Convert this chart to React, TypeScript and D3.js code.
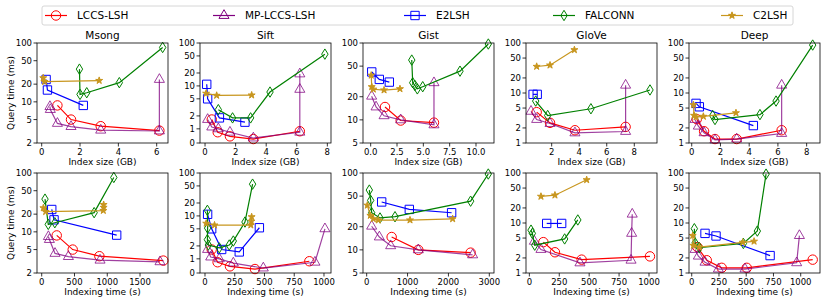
import * as d3 from "d3";

const methods = ["LCCS-LSH", "MP-LCCS-LSH", "E2LSH", "FALCONN", "C2LSH"];
const colors = ["#ff0000", "#800080", "#0000ff", "#008000", "#c8961e"];
const datasets = ["Msong", "Sift", "Gist", "GloVe", "Deep"];

// [index size GB, query time ms] per method (method order above)
const msongSize = [
  [[0.82, 8.7], [1.53, 5.0], [3.08, 3.86], [6.14, 3.25]],
  [[0.43, 8.3], [0.45, 7.4], [0.82, 4.3], [1.53, 3.8], [3.08, 3.3], [6.14, 3.2], [6.14, 24]],
  [[0.23, 24], [0.3, 15.9], [2.17, 8.7]],
  [[1.97, 36], [2.0, 13.4], [2.35, 14.3], [4.05, 21.2], [6.31, 84]],
  [[0.08, 25.5], [0.15, 22], [3.0, 23]],
];
const siftSize = [
  [[0.44, 1.65], [0.83, 0.76], [1.63, 0.47], [3.16, 0.28], [6.2, 0.83]],
  [[0.17, 1.65], [0.44, 1.1], [0.87, 1.0], [1.63, 0.76], [3.16, 0.35], [6.2, 0.76], [6.2, 8.3], [6.2, 19]],
  [[0.11, 10.9], [0.17, 5.0], [0.94, 1.8], [2.61, 1.43]],
  [[0.87, 2.8], [1.8, 1.8], [2.98, 1.8], [4.25, 7.2], [7.84, 55]],
  [[0.07, 6.7], [0.76, 6.0], [3.05, 6.1]],
];
const gistSize = [
  [[1.36, 14.7], [2.85, 9.8], [6.01, 9.2]],
  [[0.09, 20.3], [0.51, 14.7], [1.27, 11.3], [2.85, 10.0], [6.01, 8.6], [6.01, 30.4]],
  [[0.1, 42], [0.82, 33.6], [1.77, 31]],
  [[3.9, 60], [3.99, 30.4], [4.2, 28], [4.43, 25.3], [4.94, 27], [8.48, 43], [11.17, 97]],
  [[0.05, 38], [0.1, 26.9], [0.25, 25], [1.27, 24.4], [2.78, 25.3]],
];
const gloveSize = [
  [[0.91, 4.14], [1.88, 2.53], [3.69, 1.8], [7.37, 2.1]],
  [[0.5, 4.3], [0.91, 2.95], [1.88, 2.45], [3.69, 1.59], [7.37, 1.7], [7.37, 14.3]],
  [[0.65, 9.4], [0.95, 9.4]],
  [[0.84, 6.9], [1.71, 3.55], [4.85, 4.84], [9.14, 11.5]],
  [[0.91, 33.9], [1.88, 36], [3.65, 73]],
];
const deepSize = [
  [[0.35, 3.0], [0.86, 1.72], [1.62, 1.2], [3.13, 1.2], [6.26, 1.8]],
  [[0.23, 2.95], [0.46, 2.17], [0.86, 1.6], [1.62, 1.15], [3.13, 1.2], [6.26, 1.55], [6.26, 14.3]],
  [[0.3, 6.2], [0.53, 5.3], [4.29, 2.23]],
  [[1.46, 3.55], [1.62, 2.95], [4.75, 3.7], [5.87, 6.9], [8.42, 91]],
  [[0.12, 5.8], [0.16, 3.55], [0.3, 3.3], [0.81, 3.4], [3.08, 4.0]],
];

// [indexing time s, query time ms]
const msongTime = [
  [[229, 8.7], [473, 5.0], [880, 3.86], [1856, 3.25]],
  [[102, 8.3], [117, 7.4], [203, 4.3], [407, 3.8], [890, 3.3], [1805, 3.1]],
  [[153, 24], [188, 16], [1144, 8.8]],
  [[50, 36], [100, 13.4], [200, 14.3], [800, 21.2], [1100, 84]],
  [[25, 25.5], [60, 22], [940, 23], [945, 26], [945, 29]],
];
const siftTime = [
  [[56, 1.65], [106, 0.76], [210, 0.47], [420, 0.28], [877, 0.83]],
  [[22, 1.65], [48, 1.1], [120, 1.0], [238, 0.7], [490, 0.35], [924, 0.76], [1008, 5.0]],
  [[22, 10.9], [56, 5.0], [140, 1.65], [288, 1.45], [457, 5.3]],
  [[20, 13.5], [22, 5.2], [20, 2.8], [28, 2.1], [120, 1.8], [204, 2.1], [238, 2.6], [336, 7.2], [400, 55]],
  [[10, 6.7], [80, 6.1], [385, 6.1], [390, 7.5], [392, 9.5]],
];
const gistTime = [
  [[611, 14.7], [1263, 10.0], [2543, 9.2]],
  [[122, 20.3], [310, 14.7], [587, 11.3], [1263, 10.0], [2592, 8.6]],
  [[367, 42], [1043, 33.6], [2078, 30.4]],
  [[65, 60], [98, 44], [122, 30.4], [326, 26], [693, 27], [2543, 43], [2975, 97]],
  [[16, 38], [90, 28], [163, 25.3], [285, 24.4], [1060, 24.4], [2103, 25.3]],
];
const gloveTime = [
  [[117, 4.14], [214, 2.6], [437, 1.85], [1008, 2.15]],
  [[42, 4.3], [97, 2.95], [423, 1.59], [850, 1.8], [855, 6.2], [860, 15]],
  [[145, 9.8], [270, 9.8]],
  [[14, 7.2], [25, 6.2], [45, 3.6], [295, 4.8], [405, 11.5]],
  [[97, 34], [214, 36], [479, 73]],
];
const deepTime = [
  [[52, 3.3], [138, 1.8], [275, 1.27], [505, 1.27], [1110, 1.85]],
  [[31, 2.95], [61, 2.17], [122, 1.64], [245, 1.2], [489, 1.2], [963, 1.6], [988, 5.6]],
  [[122, 6.2], [223, 5.5], [719, 2.23]],
  [[24, 7.7], [31, 4], [70, 3.2], [474, 3.9], [602, 6.9], [682, 95]],
  [[9, 5.6], [15, 3.55], [70, 3.3], [468, 4.1], [572, 4.3]],
];

const sizeData = [msongSize, siftSize, gistSize, gloveSize, deepSize];
const timeData = [msongTime, siftTime, gistTime, gloveTime, deepTime];

const sizeDomains = [[-0.245, 6.59], [-0.33, 8.24], [-0.73, 11.71], [0.135, 9.65], [-0.19, 8.93]];
const timeDomains = [[-72, 1927], [-42, 1059], [-90, 3115], [-28, 1067], [-25, 1177]];
const sizeTicks = [[0, 2, 4, 6], [0, 2, 4, 6, 8], [0, 2.5, 5, 7.5, 10], [2, 4, 6, 8], [0, 2, 4, 6, 8]];
const timeTicks = [
  [0, 500, 1000, 1500],
  [0, 250, 500, 750, 1000],
  [0, 1000, 2000, 3000],
  [0, 250, 500, 750, 1000],
  [0, 250, 500, 750, 1000],
];
const yTicks = [
  [2, 5, 10, 20, 50, 100],
  [0, 1, 2, 5, 10, 20, 50, 100],
  [5, 10, 20, 50, 100],
  [1, 2, 5, 10, 20, 50, 100],
  [1, 2, 5, 10, 20, 50, 100],
];

const W = 830;
const H = 300;
const font = "DejaVu Sans, sans-serif";
const panelW = 131;
const panelH = 100;
const rowTops = [43, 173];
const panelLeft = (i: number) => 37 + i * 163;

// symlog-like transform used on the Sift axis
const symT = (v: number) => (v <= 1 ? v * 0.33 : 0.33 + Math.log10(v));

function markerPath(k: number) {
  if (k === 0) return d3.symbol(d3.symbolCircle, 70)()!;
  if (k === 1) return d3.symbol(d3.symbolTriangle, 44)()!;
  if (k === 2) return d3.symbol(d3.symbolSquare, 70)()!;
  if (k === 3) {
    const p = d3.path();
    p.moveTo(0, -5.2);
    p.lineTo(3.2, 0);
    p.lineTo(0, 5.2);
    p.lineTo(-3.2, 0);
    p.closePath();
    return p.toString();
  }
  return d3.symbol(d3.symbolStar, 15)()!;
}

function Panel({ col, row }: { col: number; row: number }) {
  const left = panelLeft(col);
  const top = rowTops[row];
  const data = row === 0 ? sizeData[col] : timeData[col];
  const xd = row === 0 ? sizeDomains[col] : timeDomains[col];
  const xt = row === 0 ? sizeTicks[col] : timeTicks[col];
  const x = d3.scaleLinear().domain(xd).range([left, left + panelW]);
  const yt = yTicks[col];
  let y: (v: number) => number;
  if (col === 1) {
    const lin = d3.scaleLinear().domain([0, symT(100)]).range([top + panelH, top]);
    y = (v) => lin(symT(v));
  } else {
    const lg = d3.scaleLog().domain([yt[0], 100]).range([top + panelH, top]);
    y = (v) => lg(v);
  }
  const fmt = row === 0 && col === 2 ? d3.format(".1f") : d3.format("d");
  const line = d3
    .line<number[]>()
    .x((d) => x(d[0]))
    .y((d) => y(d[1]));
  const clipId = `clip-${row}-${col}`;
  return (
    <g>
      <defs>
        <clipPath id={clipId}>
          <rect x={left - 6} y={top - 6} width={panelW + 12} height={panelH + 12} />
        </clipPath>
      </defs>
      <g clipPath={`url(#${clipId})`}>
        {data.map((s, k) => (
          <g key={k}>
            <path
              d={line(s) || ""}
              fill="none"
              stroke={colors[k]}
              strokeWidth={1.2}
              strokeOpacity={k === 1 ? 0.75 : 1}
            />
            {s.map((d, j) => (
              <path
                key={j}
                d={markerPath(k)}
                transform={`translate(${x(d[0])},${y(d[1])})`}
                fill={k === 4 ? colors[k] : "none"}
                stroke={colors[k]}
                strokeWidth={1}
                strokeOpacity={k === 1 ? 0.75 : 1}
              />
            ))}
          </g>
        ))}
      </g>
      <rect x={left} y={top} width={panelW} height={panelH} fill="none" stroke="#000" strokeWidth={0.8} />
      {xt.map((t) => (
        <g key={t}>
          <line x1={x(t)} x2={x(t)} y1={top + panelH} y2={top + panelH + 3.5} stroke="#000" strokeWidth={0.8} />
          <text
            x={x(t)}
            y={top + panelH + 11.5}
            fontSize={8.5}
            textAnchor="middle"
            fontFamily={font}
          >
            {fmt(t)}
          </text>
        </g>
      ))}
      {yt.map((t) => (
        <g key={t}>
          <line x1={left - 3.5} x2={left} y1={y(t)} y2={y(t)} stroke="#000" strokeWidth={0.8} />
          <text
            x={left - 5}
            y={y(t) + 3}
            fontSize={8.5}
            textAnchor="end"
            fontFamily={font}
          >
            {t}
          </text>
        </g>
      ))}
      {row === 0 && (
        <text x={left + panelW / 2} y={top - 4} fontSize={10.5} textAnchor="middle" fontFamily={font}>
          {datasets[col]}
        </text>
      )}
      <text
        x={left + panelW / 2}
        y={top + panelH + 22}
        fontSize={9}
        textAnchor="middle"
        fontFamily={font}
      >
        {row === 0 ? "Index size (GB)" : "Indexing time (s)"}
      </text>
      {col === 0 && (
        <text
          transform={`translate(14,${top + panelH / 2}) rotate(-90)`}
          fontSize={9}
          textAnchor="middle"
          fontFamily={font}
        >
          Query time (ms)
        </text>
      )}
    </g>
  );
}

const legendX = [45, 213, 404, 553, 721];

export default function App() {
  return (
    <svg width={W} height={H} style={{ position: "absolute", left: 0, top: 0, background: "#fff" }}>
      <rect x={0} y={0} width={W} height={H} fill="#fff" />
      <rect x={42} y={6} width={751} height={19} rx={2} fill="#fff" stroke="#cccccc" strokeWidth={0.8} />
      {methods.map((m, k) => (
        <g key={m}>
          <line
            x1={legendX[k]}
            x2={legendX[k] + 22}
            y1={15.5}
            y2={15.5}
            stroke={colors[k]}
            strokeWidth={1.2}
          />
          <path
            d={markerPath(k)}
            transform={`translate(${legendX[k] + 11},15.5)`}
            fill={k === 4 ? colors[k] : "none"}
            stroke={colors[k]}
          />
          <text x={legendX[k] + 32} y={19.2} fontSize={10.5} fontFamily={font}>
            {m}
          </text>
        </g>
      ))}
      {[0, 1].map((r) => datasets.map((_, c) => <Panel key={`${r}-${c}`} row={r} col={c} />))}
    </svg>
  );
}
